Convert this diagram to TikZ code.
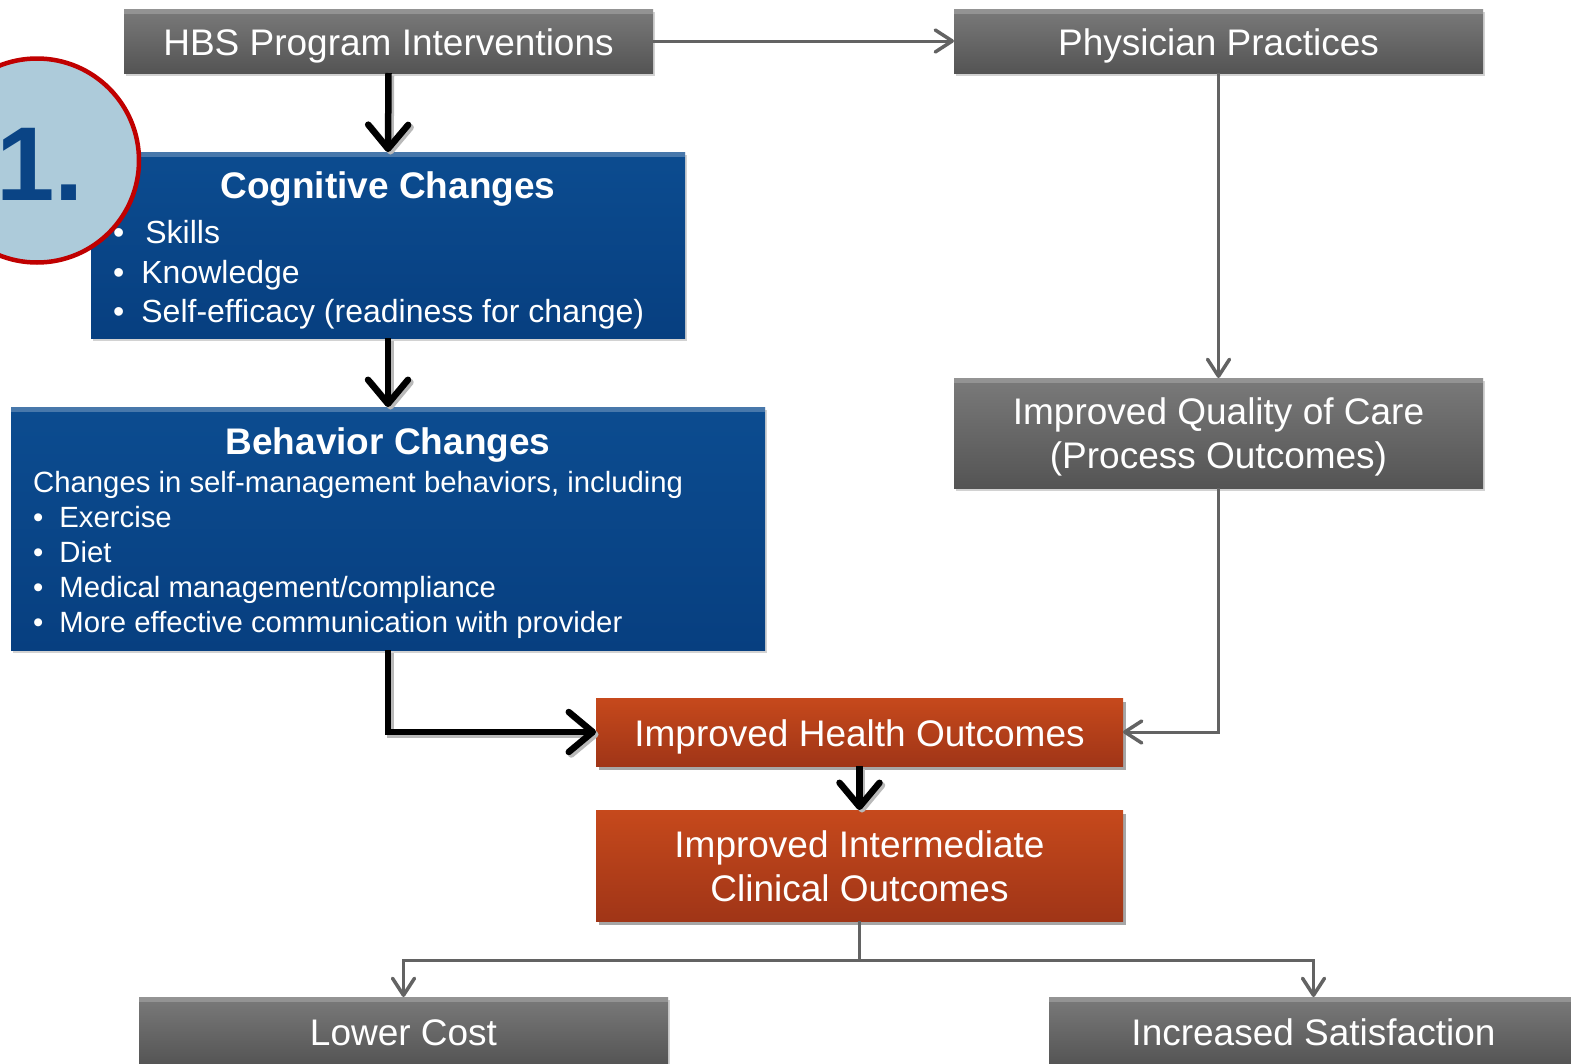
\documentclass[tikz,border=0pt]{standalone}
\usepackage{fontspec}
\setmainfont{Liberation Sans}
\usetikzlibrary{arrows.meta,shadows}
\definecolor{gtop}{HTML}{7A7A7A}
\definecolor{gbot}{HTML}{545454}
\definecolor{btop}{HTML}{0C4C90}
\definecolor{bbot}{HTML}{073F80}
\definecolor{otop}{HTML}{C6491C}
\definecolor{obot}{HTML}{A03517}
\definecolor{lineg}{HTML}{636363}
\definecolor{circfill}{HTML}{ADCBDA}
\definecolor{circred}{HTML}{C00000}
\definecolor{numblue}{HTML}{0A4485}
\tikzset{
  basebox/.style={inner sep=0pt, outer sep=0pt, text=white,
    font=\fontsize{37}{44}\selectfont, text height=28pt, text depth=0pt},
  twoline/.style={text height=27pt, text depth=43.5pt},
  topstrip/.style={path picture={\fill[white,opacity=#1]
    (path picture bounding box.north west) rectangle
    ([yshift=-5pt]path picture bounding box.north east);}},
  gbox/.style={basebox, top color=gtop, bottom color=gbot, topstrip=0.2,
    drop shadow={shadow xshift=2pt, shadow yshift=-3pt, opacity=0.35}},
  bbox/.style={basebox, top color=btop, bottom color=bbot, topstrip=0.25,
    drop shadow={shadow xshift=2pt, shadow yshift=-3pt, opacity=0.35}},
  obox/.style={basebox, top color=otop, bottom color=obot,
    drop shadow={shadow xshift=3pt, shadow yshift=-4pt, fill=gray!70, opacity=1}},
  wtxt/.style={inner sep=0pt, text=white},
  ttl/.style={wtxt, anchor=base, font=\fontsize{37}{44}\selectfont\bfseries},
  cogtxt/.style={wtxt, anchor=base west, font=\fontsize{32}{40}\selectfont},
  behtxt/.style={wtxt, anchor=base west, font=\fontsize{29.3}{35}\selectfont},
  blackarr/.style={draw=black, line width=6.5pt, line join=miter,
    -{Straight Barb[length=24pt,width=40pt,line width=6.5pt,round]}},
  blackshadow/.style={draw=gray!55, line width=6.5pt, line join=miter,
    transform canvas={xshift=2.5pt,yshift=-2.5pt},
    -{Straight Barb[length=24pt,width=40pt,line width=6.5pt,round]}},
  grayarr/.style={draw=lineg, line width=3pt, line join=miter,
    -{Straight Barb[length=17pt,width=22pt,line width=3.5pt,round]}},
}
\begin{document}
\begin{tikzpicture}[x=1pt,y=-1pt]
\clip (0,0) rectangle (1571,1063);
\fill[white] (0,0) rectangle (1571,1063);

% boxes
\node[gbox, minimum width=529pt, minimum height=64pt] (hbs) at (388.5,41) {HBS Program Interventions};
\node[gbox, minimum width=529pt, minimum height=64pt] (phys) at (1218.5,41) {Physician Practices};
\node[bbox, minimum width=594pt, minimum height=186pt] (cog) at (388,245) {};
\node[bbox, minimum width=754pt, minimum height=243pt] (beh) at (388,528.5) {};
\node[gbox, twoline, minimum width=529pt, minimum height=110pt] (qual) at (1218.5,433)
  {\begin{tabular}[t]{@{}c@{}}Improved Quality of Care\\(Process Outcomes)\end{tabular}};
\node[obox, minimum width=527pt, minimum height=68pt] (health) at (859.5,732) {Improved Health Outcomes};
\node[obox, twoline, minimum width=527pt, minimum height=111pt] (inter) at (859.5,865.5)
  {\begin{tabular}[t]{@{}c@{}}Improved Intermediate\\Clinical Outcomes\end{tabular}};
\node[gbox, minimum width=529pt, minimum height=68pt] (low) at (403.5,1031) {Lower Cost};
\node[gbox, minimum width=529pt, minimum height=68pt] (sat) at (1313.5,1031) {Increased Satisfaction};

% cognitive text
\node[ttl] (cogT) at (388,198) {Cognitive Changes};
\node[cogtxt] (cogA) at (113,243) {•\hspace{21pt}Skills};
\node[cogtxt] (cogB) at (113,283) {•\hspace{17pt}Knowledge};
\node[cogtxt] (cogC) at (113,322) {•\hspace{17pt}Self-efficacy (readiness for change)};

% behavior text
\node[ttl] (behT) at (388,454) {Behavior Changes};
\node[behtxt] (behL) at (33,492) {Changes in self-management behaviors, including};
\node[behtxt] (behA) at (33,527) {•\hspace{16pt}Exercise};
\node[behtxt] (behB) at (33,562) {•\hspace{16pt}Diet};
\node[behtxt] (behC) at (33,597) {•\hspace{16pt}Medical management/compliance};
\node[behtxt] (behD) at (33,632) {•\hspace{16pt}More effective communication with provider};

% connectors
\draw[grayarr] (hbs.east) -- (phys.west);
\draw[blackshadow] (hbs.south) -- (cog.north);
\draw[blackarr] (hbs.south) -- (cog.north);
\draw[blackshadow] (cog.south) -- (beh.north);
\draw[blackarr] (cog.south) -- (beh.north);
\draw[grayarr] (phys.south) -- (qual.north);
\draw[blackshadow] (beh.south) |- (health.west);
\draw[blackarr] (beh.south) |- (health.west);
\draw[grayarr] (qual.south) |- (health.east);
\draw[blackshadow] (health.south) -- (inter.north);
\draw[blackarr] (health.south) -- (inter.north);
\coordinate (split) at (859.5,960);
\draw[draw=lineg, line width=3pt] (inter.south) -- (split);
\draw[grayarr] (split) -| (low.north);
\draw[grayarr] (split) -| (sat.north);

% number badge
\node[circle, draw=circred, line width=4.5pt, fill=circfill, minimum size=204pt, inner sep=0pt] (circ) at (37,160.5) {};
\node[anchor=base east, inner sep=0pt, text=numblue, font=\fontsize{105}{105}\selectfont\bfseries] (num) at (84,200) {1.};
\end{tikzpicture}
\end{document}
